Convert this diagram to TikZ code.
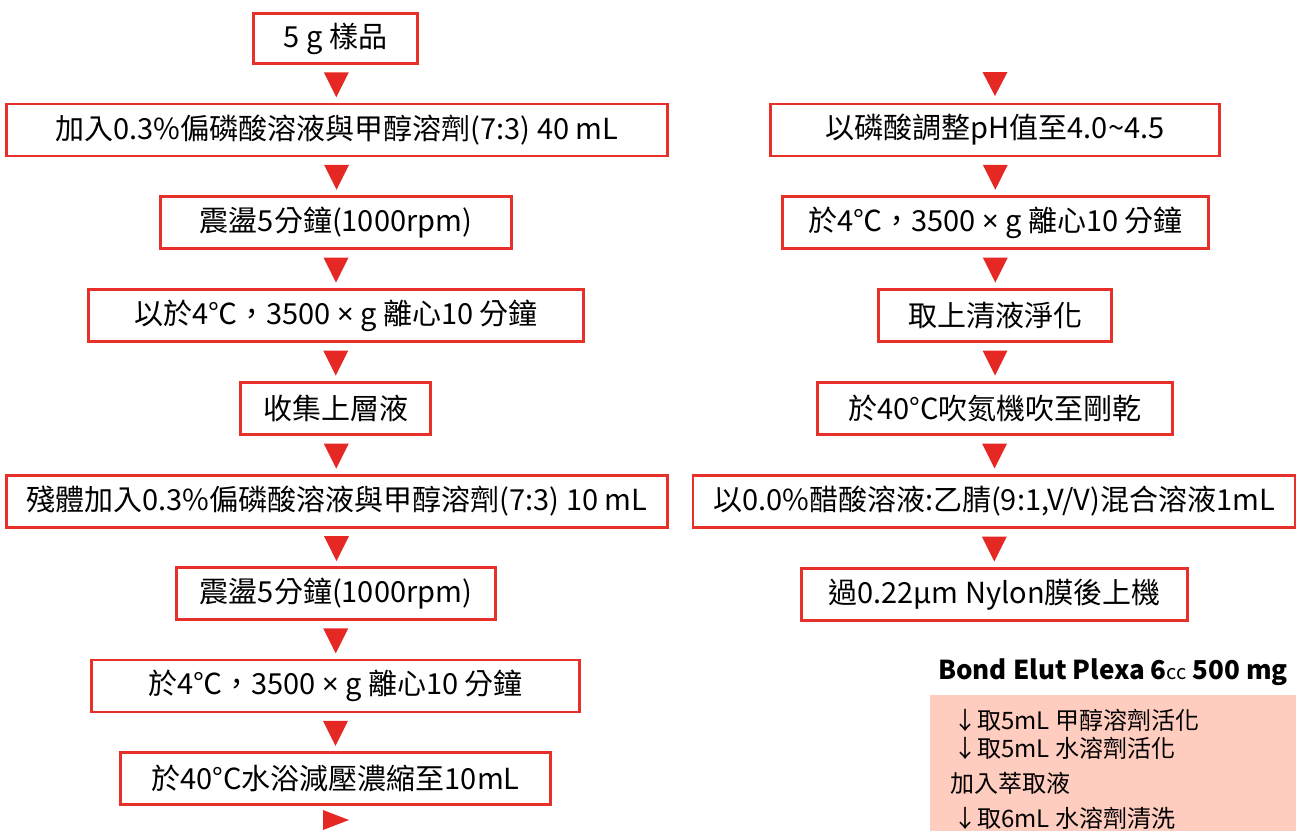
\documentclass[tikz,border=0pt]{standalone}
\usepackage{fontspec}
\newfontfamily\cjk{Noto Sans CJK TC}
\newfontfamily\latin{Noto Sans}
\usetikzlibrary{calc}
\definecolor{boxred}{RGB}{232,48,42}
\definecolor{trired}{RGB}{229,40,36}
\definecolor{spepink}{RGB}{255,204,192}
\tikzset{
  stepbox/.style={draw=boxred,line width=2.6pt,minimum height=52pt,inner sep=0pt,font=\cjk\fontsize{29}{34}\selectfont},
  downtri/.style={fill=trired},
  spetext/.style={anchor=west,inner sep=0pt,font=\cjk\fontsize{24}{28}\selectfont}
}
\newcommand{\tms}{{\latin ×}}
\begin{document}
\begin{tikzpicture}[x=1pt,y=-1pt]
\useasboundingbox (0,0) rectangle (1296,831);
% left column
\node[stepbox,minimum width=164pt,minimum height=50pt] (l1) at (335.5,38.5) {5 g 樣品};
\node[stepbox,minimum width=661pt] (l2) at (337,130) {加入0.3\%偏磷酸溶液與甲醇溶劑(7:3) 40 mL};
\node[stepbox,minimum width=351pt] (l3) at (336,222.5) {震盪5分鐘(1000rpm)};
\node[stepbox,minimum width=495pt] (l4) at (336,315.5) {以於4℃，3500 \tms{} g 離心10 分鐘};
\node[stepbox,minimum width=190pt] (l5) at (335.5,408.5) {收集上層液};
\node[stepbox,minimum width=661pt] (l6) at (337,501.5) {殘體加入0.3\%偏磷酸溶液與甲醇溶劑(7:3) 10 mL};
\node[stepbox,minimum width=319pt] (l7) at (336,593.5) {震盪5分鐘(1000rpm)};
\node[stepbox,minimum width=488pt] (l8) at (335.5,686) {於4℃，3500 \tms{} g 離心10 分鐘};
\node[stepbox,minimum width=430pt] (l9) at (335.5,778.5) {於40°C水浴減壓濃縮至10mL};
% right column
\coordinate (rtop) at (995,84);
\node[stepbox,minimum width=449pt] (r1) at (995,130) {以磷酸調整pH值至4.0\textasciitilde4.5};
\node[stepbox,minimum width=426pt] (r2) at (995.5,222.5) {於4℃，3500 \tms{} g 離心10 分鐘};
\node[stepbox,minimum width=233pt] (r3) at (995,315.5) {取上清液淨化};
\node[stepbox,minimum width=355pt] (r4) at (995,408.5) {於40°C吹氮機吹至剛乾};
\node[stepbox,minimum width=602pt] (r5) at (994,501.5) {以0.0\%醋酸溶液:乙腈(9:1,V/V)混合溶液1mL};
\node[stepbox,minimum width=386pt] (r6) at (994.5,594.5) {過0.22µm Nylon膜後上機};
% arrowheads
\foreach \a/\b in {l1/l2,l2/l3,l3/l4,l4/l5,l5/l6,l6/l7,l7/l8,l8/l9,r1/r2,r2/r3,r3/r4,r4/r5,r5/r6}
  \fill[downtri] ($(\a.south)!.5!(\b.north)$) +(-12.5,-11.5) -- +(12.5,-11.5) -- +(0,13.5) -- cycle;
\fill[downtri] (rtop) +(-12.5,-12) -- +(12.5,-12) -- +(0,12) -- cycle;
\coordinate (lend) at (336,820);
\fill[downtri] (lend) +(-13,-10) -- +(-13,10) -- +(13,0) -- cycle;
% cartridge
\node[anchor=west,inner sep=0pt,font=\cjk\bfseries\fontsize{26}{30}\selectfont] (spe) at (938,672)
  {Bond Elut Plexa 6{\mdseries\fontsize{20}{22}\selectfont cc} 500 mg};
\fill[spepink] (930,695) rectangle (1296,831);
\node[spetext] (s1) at (953,720) {↓取5mL 甲醇溶劑活化};
\node[spetext] (s2) at (953,748) {↓取5mL 水溶劑活化};
\node[spetext] (s3) at (950,783) {加入萃取液};
\node[spetext] (s4) at (953,818) {↓取6mL 水溶劑清洗};
\end{tikzpicture}
\end{document}
